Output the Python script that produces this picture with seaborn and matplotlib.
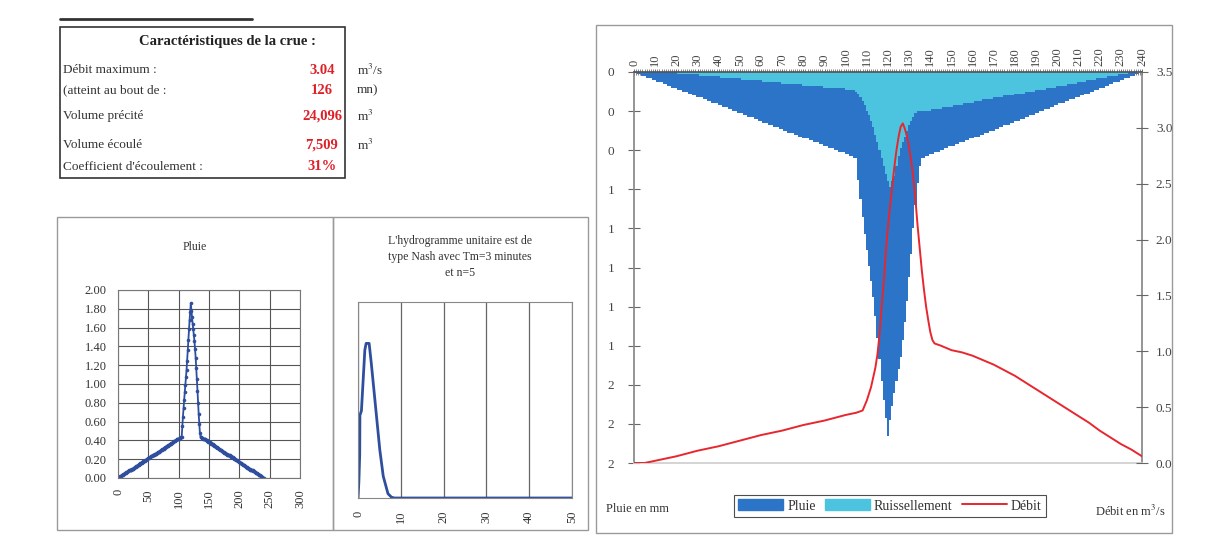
import matplotlib
matplotlib.use("Agg")
import matplotlib.pyplot as plt
import seaborn as sns
import pandas as pd
from matplotlib.patches import Rectangle, Patch
from matplotlib.lines import Line2D
from matplotlib.ticker import MultipleLocator, FormatStrFormatter

# ---- data ----
minutes = list(range(241))

pluie = [
    0.00, 0.00, 0.01, 0.01, 0.02, 0.02, 0.03, 0.03, 0.03, 0.04,
    0.04, 0.05, 0.05, 0.05, 0.06, 0.06, 0.07, 0.07, 0.08, 0.08,
    0.08, 0.09, 0.09, 0.10, 0.10, 0.10, 0.11, 0.11, 0.12, 0.12,
    0.13, 0.13, 0.13, 0.14, 0.14, 0.15, 0.15, 0.16, 0.16, 0.16,
    0.17, 0.17, 0.18, 0.18, 0.18, 0.19, 0.19, 0.20, 0.20, 0.21,
    0.21, 0.21, 0.22, 0.22, 0.23, 0.23, 0.23, 0.24, 0.24, 0.25,
    0.25, 0.26, 0.26, 0.26, 0.27, 0.27, 0.28, 0.28, 0.28, 0.29,
    0.29, 0.30, 0.30, 0.31, 0.31, 0.31, 0.32, 0.32, 0.33, 0.33,
    0.34, 0.34, 0.34, 0.35, 0.35, 0.36, 0.36, 0.36, 0.37, 0.37,
    0.38, 0.38, 0.39, 0.39, 0.39, 0.40, 0.40, 0.41, 0.41, 0.41,
    0.42, 0.42, 0.43, 0.43, 0.44, 0.44, 0.55, 0.65, 0.74, 0.83,
    0.91, 0.99, 1.07, 1.15, 1.25, 1.36, 1.47, 1.58, 1.68, 1.77,
    1.86, 1.78, 1.71, 1.64, 1.58, 1.52, 1.46, 1.37, 1.28, 1.17,
    1.05, 0.93, 0.80, 0.68, 0.57, 0.48, 0.44, 0.44, 0.43, 0.43,
    0.42, 0.42, 0.41, 0.41, 0.41, 0.40, 0.40, 0.39, 0.39, 0.38,
    0.38, 0.38, 0.37, 0.37, 0.36, 0.36, 0.36, 0.35, 0.35, 0.34,
    0.34, 0.33, 0.33, 0.33, 0.32, 0.32, 0.31, 0.31, 0.30, 0.30,
    0.30, 0.29, 0.29, 0.28, 0.28, 0.27, 0.27, 0.27, 0.26, 0.26,
    0.25, 0.25, 0.25, 0.24, 0.24, 0.23, 0.23, 0.22, 0.22, 0.22,
    0.21, 0.21, 0.20, 0.20, 0.19, 0.19, 0.19, 0.18, 0.18, 0.17,
    0.17, 0.16, 0.16, 0.16, 0.15, 0.15, 0.14, 0.14, 0.14, 0.13,
    0.13, 0.12, 0.12, 0.11, 0.11, 0.11, 0.10, 0.10, 0.09, 0.09,
    0.08, 0.08, 0.08, 0.07, 0.07, 0.06, 0.06, 0.05, 0.05, 0.05,
    0.04, 0.04, 0.03, 0.03, 0.03, 0.02, 0.02, 0.01, 0.01, 0.00,
    0.00,
]

ruissellement = [
    0.00, 0.00, 0.00, 0.00, 0.00, 0.00, 0.00, 0.00, 0.00, 0.00,
    0.00, 0.00, 0.00, 0.00, 0.00, 0.00, 0.00, 0.00, 0.00, 0.00,
    0.00, 0.01, 0.01, 0.01, 0.01, 0.01, 0.01, 0.01, 0.01, 0.01,
    0.01, 0.02, 0.02, 0.02, 0.02, 0.02, 0.02, 0.02, 0.02, 0.02,
    0.02, 0.03, 0.03, 0.03, 0.03, 0.03, 0.03, 0.03, 0.03, 0.03,
    0.03, 0.04, 0.04, 0.04, 0.04, 0.04, 0.04, 0.04, 0.04, 0.04,
    0.04, 0.05, 0.05, 0.05, 0.05, 0.05, 0.05, 0.05, 0.05, 0.05,
    0.06, 0.06, 0.06, 0.06, 0.06, 0.06, 0.06, 0.06, 0.06, 0.06,
    0.07, 0.07, 0.07, 0.07, 0.07, 0.07, 0.07, 0.07, 0.07, 0.07,
    0.08, 0.08, 0.08, 0.08, 0.08, 0.08, 0.08, 0.08, 0.08, 0.08,
    0.09, 0.09, 0.09, 0.09, 0.09, 0.10, 0.11, 0.13, 0.15, 0.17,
    0.20, 0.22, 0.25, 0.28, 0.32, 0.36, 0.40, 0.44, 0.48, 0.52,
    0.56, 0.59, 0.56, 0.53, 0.48, 0.43, 0.39, 0.36, 0.33, 0.30,
    0.27, 0.25, 0.23, 0.21, 0.20, 0.20, 0.20, 0.20, 0.20, 0.20,
    0.20, 0.19, 0.19, 0.19, 0.19, 0.19, 0.18, 0.18, 0.18, 0.18,
    0.18, 0.17, 0.17, 0.17, 0.17, 0.17, 0.16, 0.16, 0.16, 0.16,
    0.16, 0.15, 0.15, 0.15, 0.15, 0.14, 0.14, 0.14, 0.14, 0.14,
    0.13, 0.13, 0.13, 0.13, 0.13, 0.12, 0.12, 0.12, 0.12, 0.12,
    0.11, 0.11, 0.11, 0.11, 0.11, 0.10, 0.10, 0.10, 0.10, 0.10,
    0.09, 0.09, 0.09, 0.09, 0.09, 0.08, 0.08, 0.08, 0.08, 0.08,
    0.07, 0.07, 0.07, 0.07, 0.07, 0.06, 0.06, 0.06, 0.06, 0.06,
    0.05, 0.05, 0.05, 0.05, 0.04, 0.04, 0.04, 0.04, 0.04, 0.03,
    0.03, 0.03, 0.03, 0.03, 0.02, 0.02, 0.02, 0.02, 0.02, 0.01,
    0.01, 0.01, 0.01, 0.01, 0.00, 0.00, 0.00, 0.00, 0.00, 0.00,
    0.00,
]

debit_t = [0, 5, 10, 20, 30, 40, 50, 60, 70, 80, 90, 100,
           105, 108, 110, 112, 114,
           115, 116, 117, 118, 119, 120, 121, 122, 123, 124, 125, 126, 127, 128,
           129, 130, 131, 132, 133, 134, 135, 136, 137, 138, 139, 140, 141, 142,
           145, 150, 155, 160, 165, 170, 175, 180, 185, 190, 195, 200, 205, 210,
           215, 220, 225, 230, 235, 240]
debit = [0.00, 0.00, 0.02, 0.06, 0.11, 0.15, 0.20, 0.25, 0.29, 0.34, 0.38, 0.43,
         0.45, 0.47, 0.56, 0.68, 0.85,
         0.97, 1.15, 1.40, 1.62, 1.90, 2.12, 2.30, 2.48, 2.65, 2.80, 2.92, 3.01, 3.04, 2.99,
         2.92, 2.82, 2.70, 2.55, 2.35, 2.12, 1.92, 1.72, 1.55, 1.40, 1.28, 1.17, 1.10, 1.07,
         1.05, 1.01, 0.99, 0.96, 0.92, 0.88, 0.83, 0.78, 0.72, 0.66, 0.60, 0.54, 0.48, 0.42,
         0.36, 0.29, 0.23, 0.17, 0.12, 0.06]

nash_t = [0, 0.2, 0.4, 0.45, 0.8, 1.2, 1.6, 1.9, 2.6, 3.1, 3.7, 4.3, 5.1, 5.9, 7.0, 7.8, 8.5, 50]
nash_q = [0, 0.036, 0.10, 0.19, 0.20, 0.27, 0.34, 0.355, 0.355, 0.31, 0.25, 0.19, 0.11, 0.05, 0.01, 0.002, 0, 0]

table_labels = ["Débit maximum :", "(atteint au bout de :", "Volume précité",
                "Volume écoulé", "Coefficient d'écoulement :"]
table_values = ["3.04", "126", "24,096", "7,509", "31%"]
table_units = ["m$^3$/s", "mn)", "m$^3$", "m$^3$", ""]

C_PLUIE = "#2C74C8"
C_RUIS = "#4CC4E0"
C_DEBIT = "#E8262E"
C_LINE = "#2F4F9E"

sns.set_theme(style="white")
plt.rcParams["font.family"] = ["Liberation Serif", "DejaVu Serif"]
plt.rcParams["mathtext.fontset"] = "stix"

W, H = 1207, 552
fig = plt.figure(figsize=(W / 100, H / 100), dpi=100)


def fbox(x0, y0, x1, y1):
    return [x0 / W, 1 - y1 / H, (x1 - x0) / W, (y1 - y0) / H]


def frame(x0, y0, x1, y1, color="#9a9a9a", lw=1.0):
    fig.add_artist(Rectangle((x0 / W, 1 - y1 / H), (x1 - x0) / W, (y1 - y0) / H,
                             transform=fig.transFigure, fill=False, edgecolor=color, lw=lw))


# ---- table ----
fig.add_artist(Line2D([60 / W, 252 / W], [1 - 19 / H, 1 - 19 / H], transform=fig.transFigure,
                      color="#333333", lw=2))
frame(60, 27, 345, 178, color="#333333", lw=1.2)
fig.text(227 / W, 1 - 42 / H, "Caractéristiques de la crue :", ha="center", va="center",
         fontsize=10.5, fontweight="bold", color="#222222")
row_y = [70, 90, 116, 145, 167]
for lab, val, unit, yy in zip(table_labels, table_values, table_units, row_y):
    fig.text(63 / W, 1 - yy / H, lab, ha="left", va="center", fontsize=9.5, color="#333333")
    fig.text(322 / W, 1 - yy / H, val, ha="center", va="center", fontsize=10.5,
             fontweight="bold", color="#E02028")
    fig.text(357 / W, 1 - yy / H, unit, ha="left", va="center", fontsize=9.5, color="#333333")

# ---- Pluie small chart ----
frame(57, 217, 333, 530)
ax1 = fig.add_axes(fbox(118, 290, 300, 478))
df_p = pd.DataFrame({"t": minutes, "p": pluie})
sns.lineplot(data=df_p, x="t", y="p", ax=ax1, color=C_LINE, lw=1.3, marker="o",
             markersize=2.6, markeredgewidth=0, markerfacecolor=C_LINE)
ax1.set_xlim(0, 300)
ax1.set_ylim(0, 2.0)
ax1.xaxis.set_major_locator(MultipleLocator(50))
ax1.yaxis.set_major_locator(MultipleLocator(0.2))
ax1.yaxis.set_major_formatter(FormatStrFormatter("%.2f"))
ax1.grid(True, color="#555555", lw=0.8)
ax1.set_xlabel("")
ax1.set_ylabel("")
for s in ax1.spines.values():
    s.set_color("#777777")
    s.set_linewidth(0.8)
ax1.tick_params(axis="x", labelrotation=90, labelsize=9, pad=2, colors="#333333")
ax1.tick_params(axis="y", labelsize=9, pad=2, colors="#333333")
fig.text(195 / W, 1 - 247 / H, "Pluie", ha="center", va="center", fontsize=8.5, color="#333333")

# ---- Nash small chart ----
frame(333, 217, 588, 530)
ax2 = fig.add_axes(fbox(358, 302, 572, 498))
df_n = pd.DataFrame({"t": nash_t, "q": nash_q})
sns.lineplot(data=df_n, x="t", y="q", ax=ax2, color=C_LINE, lw=2)
ax2.set_xlim(0, 50)
ax2.set_ylim(0, 0.45)
ax2.xaxis.set_major_locator(MultipleLocator(10))
ax2.set_yticks([])
ax2.grid(True, axis="x", color="#666666", lw=0.9)
ax2.set_xlabel("")
ax2.set_ylabel("")
for s in ax2.spines.values():
    s.set_color("#888888")
    s.set_linewidth(0.8)
ax2.tick_params(axis="x", labelrotation=90, labelsize=9, pad=3, colors="#333333")
fig.text(460 / W, 1 - 257 / H, "L'hydrogramme unitaire est de\ntype Nash avec Tm=3 minutes\net n=5",
         ha="center", va="center", fontsize=8.5, color="#333333", linespacing=1.45)

# ---- main chart ----
frame(596, 25, 1172, 533)
ax = fig.add_axes(fbox(634, 72, 1142, 463))
df_m = pd.DataFrame({"t": minutes, "pluie": pluie, "ruis": ruissellement})
sns.barplot(data=df_m, x="t", y="pluie", ax=ax, native_scale=True, orient="x", width=1,
            color=C_PLUIE, saturation=1, errorbar=None, linewidth=0, antialiased=False)
sns.barplot(data=df_m, x="t", y="ruis", ax=ax, native_scale=True, orient="x", width=1,
            color=C_RUIS, saturation=1, errorbar=None, linewidth=0, antialiased=False)
ax.set_xlim(0, 240)
ax.set_ylim(2.0, 0)
ax.set_yticks([i * 0.2 for i in range(11)])
ax.yaxis.set_major_formatter(FormatStrFormatter("%.0f"))
ax.xaxis.tick_top()
ax.xaxis.set_major_locator(MultipleLocator(10))
ax.xaxis.set_minor_locator(MultipleLocator(1))
ax.tick_params(axis="x", which="major", top=True, bottom=False, labelrotation=90, labelsize=9,
               direction="inout", length=5, width=0.6, color="#555555", colors="#444444", pad=2)
ax.tick_params(axis="x", which="minor", top=True, bottom=False, direction="inout",
               length=5, width=0.5, color="#555555")
ax.tick_params(axis="y", direction="inout", length=8, width=0.8, color="#666666",
               labelsize=9.5, labelcolor="#444444", pad=10)
ax.set_xlabel("")
ax.set_ylabel("")
ax.spines["top"].set_color("#555555")
ax.spines["left"].set_color("#888888")
ax.spines["right"].set_color("#888888")
ax.spines["bottom"].set_color("#cfcfcf")

ax_r = ax.twinx()
df_d = pd.DataFrame({"t": debit_t, "q": debit})
sns.lineplot(data=df_d, x="t", y="q", ax=ax_r, color=C_DEBIT, lw=1.4)
ax_r.set_ylim(0, 3.5)
ax_r.yaxis.set_major_locator(MultipleLocator(0.5))
ax_r.yaxis.set_major_formatter(FormatStrFormatter("%.1f"))
ax_r.tick_params(axis="y", direction="inout", length=8, width=0.8, color="#666666",
                 labelsize=9.5, labelcolor="#444444", pad=6)
ax_r.set_ylabel("")
ax_r.set_xlabel("")
ax_r.set_xlim(0, 240)
for s in ax_r.spines.values():
    s.set_visible(False)

handles = [Patch(facecolor=C_PLUIE, edgecolor=C_PLUIE),
           Patch(facecolor=C_RUIS, edgecolor=C_RUIS),
           Line2D([], [], color=C_DEBIT, lw=1.4)]
leg = fig.legend(handles, ["Pluie", "Ruissellement", "Débit"], loc="center",
                 bbox_to_anchor=(890 / W, 1 - 506 / H), ncol=3, frameon=True, fancybox=False,
                 edgecolor="#222222", fontsize=10, handlelength=3.2, handleheight=0.8,
                 handletextpad=0.3, columnspacing=0.7, borderpad=0.35)
leg.get_frame().set_linewidth(0.8)
for t in leg.get_texts():
    t.set_color("#333333")

fig.text(606 / W, 1 - 509 / H, "Pluie en mm", ha="left", va="center", fontsize=9, color="#333333")
fig.text(1166 / W, 1 - 511 / H, "Débit en m$^3$/s", ha="right", va="center", fontsize=9,
         color="#333333")

fig.savefig("out.png", dpi=100)
